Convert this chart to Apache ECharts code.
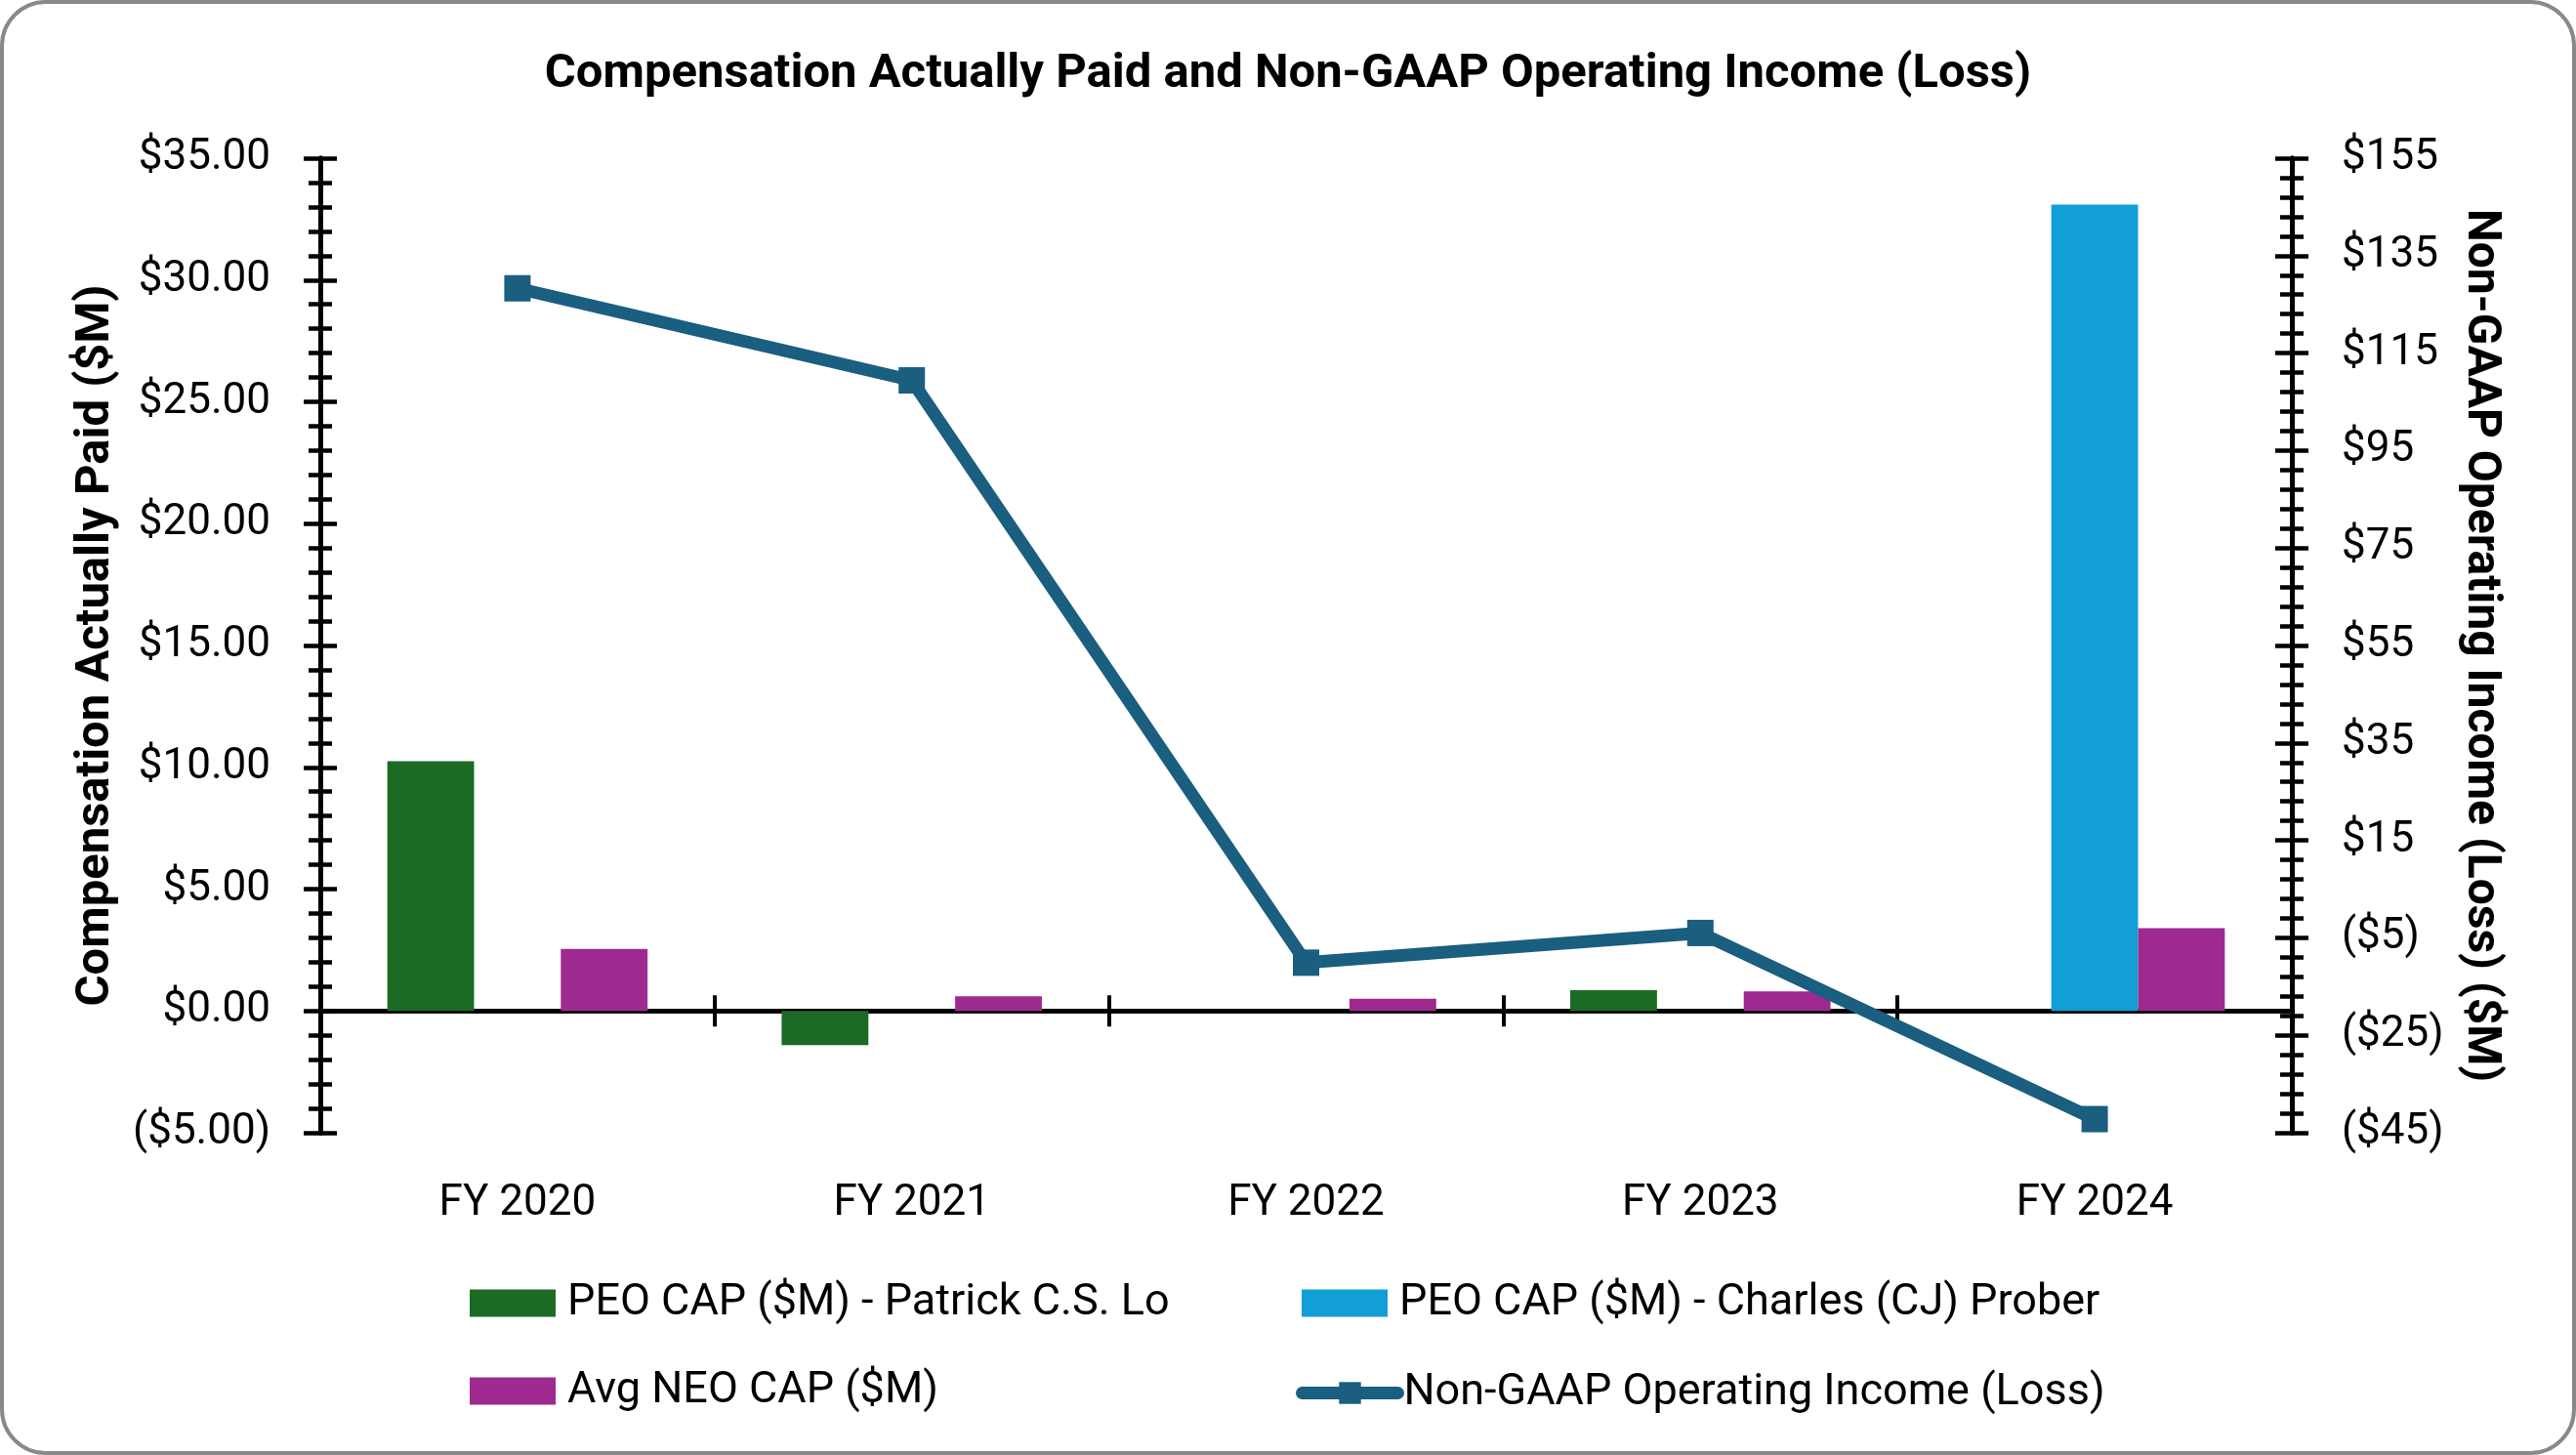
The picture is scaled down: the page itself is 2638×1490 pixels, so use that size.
<!DOCTYPE html>
<html>
<head>
<meta charset="utf-8">
<script src="https://cdn.jsdelivr.net/npm/echarts@6/dist/echarts.min.js"></script>
<style>
  html, body { margin: 0; padding: 0; background: #ffffff; }
  #chart { width: 2638px; height: 1490px; }
</style>
</head>
<body>
<div id="chart"></div>
<script>
// ---- data ----
const categories = ['FY 2020', 'FY 2021', 'FY 2022', 'FY 2023', 'FY 2024'];
const peoLo = [10.25, -1.4, null, 0.85, null];
const peoProber = [null, null, null, null, 33.1];
const avgNeo = [2.55, 0.6, 0.5, 0.8, 3.4];
const nonGaapOpIncome = [128.3, 109.4, -10.1, -4.0, -42.2];

const seriesNames = [
  'PEO CAP ($M) - Patrick C.S. Lo',
  'PEO CAP ($M) - Charles (CJ) Prober',
  'Avg NEO CAP ($M)',
  'Non-GAAP Operating Income (Loss)'
];

const leftTickLabels = ['($5.00)', '$0.00', '$5.00', '$10.00', '$15.00', '$20.00', '$25.00', '$30.00', '$35.00'];
const rightTickLabels = ['($45)', '($25)', '($5)', '$15', '$35', '$55', '$75', '$95', '$115', '$135', '$155'];

const titleText = 'Compensation Actually Paid and Non-GAAP Operating Income (Loss)';
const leftAxisName = 'Compensation Actually Paid ($M)';
const rightAxisName = 'Non-GAAP Operating Income (Loss) ($M)';

// ---- styling ----
const FONT = 'Roboto';
const C_GREEN = '#1C6B24';
const C_BLUE = '#129ED7';
const C_PURPLE = '#9E2A8F';
const C_LINE = '#1A5E80';

const LMIN = -5, LMAX = 35, LINT = 5;
const RMIN = -45, RMAX = 155, RINT = 20;

function yAxisBase(pos, min, max, interval, inside) {
  return {
    type: 'value', position: pos, min: min, max: max, interval: interval,
    splitLine: { show: false },
    axisLine: { show: true, lineStyle: { color: '#000', width: 5 } },
    axisTick: { show: true, inside: inside, length: 17, lineStyle: { color: '#000', width: 4.5 } },
    minorTick: { show: true, splitNumber: 5, length: 12, lineStyle: { color: '#000', width: 4.5 } },
    minorSplitLine: { show: false },
    axisLabel: { show: false }
  };
}

const yLeft = yAxisBase('left', LMIN, LMAX, LINT, false);
yLeft.axisLabel = {
  show: true, margin: 51, fontFamily: FONT, fontSize: 44, color: '#000', padding: [7, 0, 0, 0],
  formatter: v => leftTickLabels[Math.round((v - LMIN) / LINT)]
};
yLeft.name = leftAxisName;
yLeft.nameLocation = 'middle';
yLeft.nameGap = 205;
yLeft.nameRotate = 90;
yLeft.nameTextStyle = { fontFamily: FONT, fontSize: 49, fontWeight: 'bold', color: '#000' };

const yRight = yAxisBase('right', RMIN, RMAX, RINT, false);
yRight.axisLabel = {
  show: true, margin: 51, fontFamily: FONT, fontSize: 44, color: '#000', padding: [7, 0, 0, 0],
  formatter: v => rightTickLabels[Math.round((v - RMIN) / RINT)]
};
yRight.name = rightAxisName;
yRight.nameLocation = 'middle';
yRight.nameGap = 169;
yRight.nameRotate = -90;
yRight.nameTextStyle = { fontFamily: FONT, fontSize: 48, fontWeight: 'bold', color: '#000' };

const yLeftIn = yAxisBase('left', LMIN, LMAX, LINT, true);
const yRightIn = yAxisBase('right', RMIN, RMAX, RINT, true);

function xAxisZero(inside) {
  return {
    type: 'category', data: categories, position: 'bottom',
    axisLine: { show: true, onZero: true, onZeroAxisIndex: 0, lineStyle: { color: '#000', width: 4.5 } },
    axisTick: { show: true, inside: inside, length: 16, lineStyle: { color: '#000', width: 4 } },
    axisLabel: { show: false },
    splitLine: { show: false }
  };
}

const xLabels = {
  type: 'category', data: categories, position: 'bottom',
  axisLine: { show: false, onZero: false },
  axisTick: { show: false },
  axisLabel: { show: true, margin: 51, fontFamily: FONT, fontSize: 44, color: '#000' },
  splitLine: { show: false }
};

function legendAt(name, left, centerY, icon, w, h, pad) {
  const l = {
    data: [name], left: left, top: centerY - h / 2, padding: 0,
    itemWidth: w, itemHeight: h,
    textStyle: { fontFamily: FONT, fontSize: 45, color: '#000', lineHeight: h, padding: [0, 0, 0, pad] }
  };
  if (icon) l.icon = icon;
  return l;
}

const lineLegend = legendAt(seriesNames[3], 1327, 1418, null, 98, 28, 1);
lineLegend.lineStyle = { width: 13, cap: 'round', color: C_LINE };
lineLegend.itemStyle = { color: C_LINE };

const option = {
  animation: false,
  backgroundColor: '#ffffff',
  title: {
    text: titleText, left: 'center', top: 49, padding: 0,
    textStyle: { fontFamily: FONT, fontSize: 49, fontWeight: 'bold', color: '#000', lineHeight: 56 }
  },
  graphic: [{
    type: 'rect', z: -10, silent: true,
    shape: { x: 2, y: 2, width: 2634, height: 1486, r: 45 },
    style: { fill: 'none', stroke: '#898989', lineWidth: 4 }
  }],
  legend: [
    legendAt(seriesNames[0], 481, 1326, 'rect', 88, 28, 7),
    legendAt(seriesNames[1], 1333, 1326, 'rect', 88, 28, 7),
    legendAt(seriesNames[2], 481, 1416, 'rect', 88, 28, 7),
    lineLegend
  ],
  grid: { left: 328, right: 291, top: 162, bottom: 330, containLabel: false },
  xAxis: [xAxisZero(false), xAxisZero(true), xLabels],
  yAxis: [yLeft, yRight, yLeftIn, yRightIn],
  series: [
    { name: seriesNames[0], type: 'bar', xAxisIndex: 0, yAxisIndex: 0, data: peoLo,
      itemStyle: { color: C_GREEN }, barGap: '0%', barCategoryGap: '34%' },
    { name: seriesNames[1], type: 'bar', xAxisIndex: 0, yAxisIndex: 0, data: peoProber,
      itemStyle: { color: C_BLUE }, barGap: '0%', barCategoryGap: '34%' },
    { name: seriesNames[2], type: 'bar', xAxisIndex: 0, yAxisIndex: 0, data: avgNeo,
      itemStyle: { color: C_PURPLE }, barGap: '0%', barCategoryGap: '34%' },
    { name: seriesNames[3], type: 'line', xAxisIndex: 0, yAxisIndex: 1, data: nonGaapOpIncome,
      symbol: 'rect', symbolSize: 27, z: 5,
      itemStyle: { color: C_LINE },
      lineStyle: { color: C_LINE, width: 13, cap: 'round' } }
  ]
};

const chart = echarts.init(document.getElementById('chart'), null, { renderer: 'canvas' });
chart.setOption(option);
</script>
</body>
</html>
